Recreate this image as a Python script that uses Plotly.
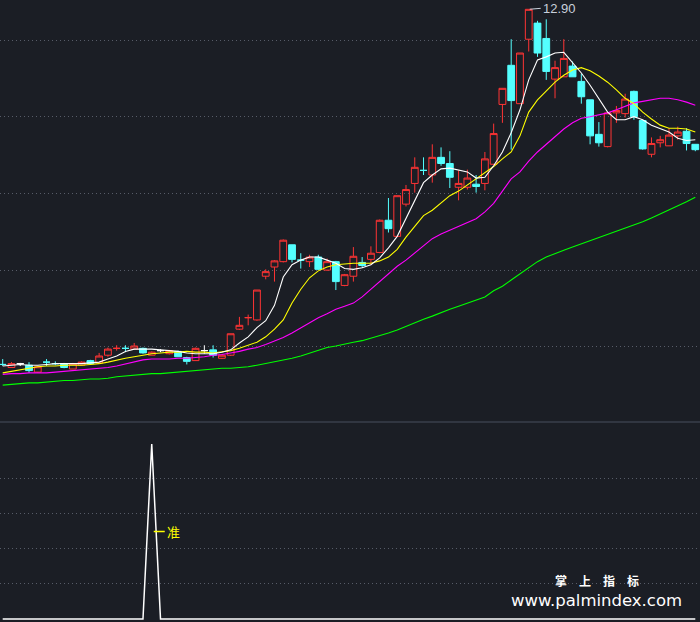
import plotly.graph_objects as go

# ---------------- data ----------------
days = list(range(80))
kind = list("crwcrcccrr" "crrrcrcrwr" "ccrwcrrrrr" "rrrccrcrcr"
            "rcrrcrrrcr" "ccrrcrrrcr" "rccrrccccr" "rrccrrrrcc")

opens = [8.27, 8.23, 8.28, 8.26, 8.17, 8.30, 8.28, 8.28, 8.21, 8.26,
         8.32, 8.29, 8.39, 8.48, 8.48, 8.47, 8.48, 8.39, 8.45, 8.41,
         8.44, 8.36, 8.32, 8.45, 8.46, 8.35, 8.39, 8.73, 8.88, 8.85,
         9.42, 9.54, 9.61, 9.83, 9.63, 9.61, 9.67, 9.50, 9.61, 9.30,
         9.42, 9.60, 9.64, 9.73, 10.15, 9.94, 10.36, 10.63, 10.80, 10.74,
         10.97, 10.89, 10.58, 10.58, 10.62, 10.63, 10.88, 11.66, 12.17, 11.67,
         12.51, 12.72, 12.52, 11.99, 12.02, 12.16, 11.96, 11.72, 11.27, 11.11,
         11.55, 11.54, 11.83, 11.45, 11.01, 11.16, 11.12, 11.25, 11.31, 11.14]
highs = [8.34, 8.30, 8.29, 8.30, 8.24, 8.34, 8.31, 8.29, 8.29, 8.31,
         8.33, 8.42, 8.49, 8.52, 8.52, 8.55, 8.49, 8.44, 8.47, 8.46,
         8.45, 8.37, 8.49, 8.52, 8.52, 8.40, 8.67, 8.89, 8.92, 9.24,
         9.51, 9.63, 9.90, 9.83, 9.72, 9.70, 9.70, 9.65, 9.62, 9.45,
         9.80, 9.67, 9.81, 10.16, 10.44, 10.47, 10.61, 10.97, 10.97, 11.14,
         11.10, 11.05, 10.80, 10.81, 10.74, 11.04, 11.41, 11.87, 12.51, 12.33,
         12.90, 12.75, 12.77, 12.23, 12.51, 12.22, 12.06, 11.72, 11.43, 11.56,
         11.64, 11.80, 11.84, 11.45, 11.23, 11.25, 11.35, 11.37, 11.35, 11.14]
lows = [8.25, 8.23, 8.25, 8.16, 8.16, 8.25, 8.26, 8.22, 8.21, 8.26,
        8.27, 8.28, 8.37, 8.45, 8.43, 8.46, 8.41, 8.39, 8.43, 8.40,
        8.37, 8.27, 8.32, 8.41, 8.36, 8.34, 8.38, 8.72, 8.78, 8.84,
        9.38, 9.35, 9.60, 9.60, 9.52, 9.54, 9.50, 9.49, 9.24, 9.29,
        9.35, 9.53, 9.57, 9.72, 9.99, 9.93, 10.33, 10.51, 10.74, 10.64,
        10.86, 10.57, 10.41, 10.55, 10.51, 10.54, 10.87, 11.42, 11.07, 11.67,
        12.35, 12.28, 11.98, 11.74, 12.02, 12.02, 11.67, 11.14, 11.11, 11.10,
        11.42, 11.49, 11.46, 11.07, 10.97, 11.10, 11.12, 11.20, 11.06, 11.05]
closes = [8.27, 8.28, 8.28, 8.19, 8.24, 8.30, 8.28, 8.23, 8.28, 8.30,
          8.28, 8.38, 8.47, 8.48, 8.48, 8.51, 8.42, 8.43, 8.45, 8.45,
          8.37, 8.31, 8.48, 8.45, 8.39, 8.39, 8.67, 8.78, 8.88, 9.24,
          9.48, 9.62, 9.89, 9.64, 9.63, 9.67, 9.51, 9.61, 9.35, 9.44,
          9.68, 9.56, 9.72, 10.15, 10.04, 10.47, 10.55, 10.84, 10.80, 10.97,
          10.89, 10.71, 10.63, 10.70, 10.59, 10.95, 11.28, 11.87, 11.71, 12.33,
          12.90, 12.33, 12.09, 12.14, 12.26, 12.02, 11.76, 11.25, 11.16, 11.55,
          11.58, 11.73, 11.50, 11.08, 11.15, 11.20, 11.26, 11.30, 11.15, 11.07]

ma5 = [8.25, 8.26, 8.27, 8.26, 8.26, 8.27, 8.28, 8.28, 8.28, 8.28,
       8.29, 8.30, 8.34, 8.38, 8.44, 8.47, 8.47, 8.47, 8.46, 8.45,
       8.44, 8.42, 8.41, 8.41, 8.41, 8.43, 8.46, 8.55, 8.63, 8.75,
       8.84, 9.04, 9.41, 9.57, 9.63, 9.67, 9.67, 9.63, 9.59, 9.52,
       9.51, 9.53, 9.57, 9.66, 9.79, 9.94, 10.17, 10.41, 10.64, 10.74,
       10.82, 10.83, 10.80, 10.78, 10.70, 10.71, 10.86, 11.04, 11.29, 11.59,
       11.98, 12.24, 12.28, 12.33, 12.34, 12.21, 12.07, 11.91, 11.73, 11.56,
       11.46, 11.46, 11.50, 11.46, 11.39, 11.34, 11.30, 11.22, 11.19, 11.20]
ma10 = [8.16, 8.18, 8.20, 8.22, 8.24, 8.25, 8.25, 8.26, 8.26, 8.26,
        8.27, 8.28, 8.30, 8.33, 8.35, 8.37, 8.39, 8.41, 8.42, 8.43,
        8.43, 8.44, 8.43, 8.43, 8.42, 8.44, 8.45, 8.48, 8.52, 8.56,
        8.63, 8.73, 8.85, 9.07, 9.25, 9.40, 9.49, 9.54, 9.57, 9.58,
        9.59, 9.59, 9.59, 9.62, 9.67, 9.77, 9.93, 10.07, 10.21, 10.28,
        10.38, 10.47, 10.53, 10.61, 10.69, 10.77, 10.85, 10.95, 11.04, 11.25,
        11.56, 11.72, 11.84, 11.95, 12.04, 12.11, 12.14, 12.10, 12.03, 11.95,
        11.85, 11.74, 11.67, 11.56, 11.47, 11.39, 11.35, 11.35, 11.34, 11.30]
ma20 = [8.14, 8.15, 8.15, 8.16, 8.16, 8.16, 8.17, 8.18, 8.19, 8.20,
        8.21, 8.22, 8.23, 8.25, 8.28, 8.31, 8.33, 8.34, 8.34, 8.34,
        8.35, 8.35, 8.36, 8.37, 8.39, 8.40, 8.42, 8.44, 8.47, 8.49,
        8.53, 8.57, 8.62, 8.68, 8.75, 8.81, 8.88, 8.93, 8.99, 9.03,
        9.07, 9.15, 9.25, 9.34, 9.45, 9.55, 9.63, 9.72, 9.82, 9.91,
        9.97, 10.02, 10.06, 10.11, 10.17, 10.26, 10.37, 10.53, 10.69, 10.78,
        10.92, 11.04, 11.14, 11.25, 11.34, 11.42, 11.48, 11.50, 11.52, 11.55,
        11.59, 11.64, 11.68, 11.70, 11.72, 11.74, 11.74, 11.72, 11.69, 11.65]
ma60 = [8.00, 8.01, 8.02, 8.03, 8.03, 8.04, 8.05, 8.06, 8.06, 8.07,
        8.08, 8.08, 8.09, 8.11, 8.12, 8.13, 8.14, 8.15, 8.15, 8.16,
        8.17, 8.18, 8.19, 8.20, 8.21, 8.22, 8.22, 8.23, 8.24, 8.26,
        8.28, 8.30, 8.32, 8.35, 8.38, 8.42, 8.46, 8.49, 8.51, 8.54,
        8.56, 8.58, 8.61, 8.64, 8.68, 8.72, 8.77, 8.82, 8.86, 8.90,
        8.95, 8.99, 9.03, 9.07, 9.11, 9.15, 9.23, 9.29, 9.37, 9.45,
        9.54, 9.61, 9.67, 9.72, 9.76, 9.80, 9.84, 9.88, 9.92, 9.96,
        10.01, 10.05, 10.09, 10.13, 10.18, 10.23, 10.28, 10.34, 10.39, 10.45]

signal = [0, 0, 0, 0, 0, 0, 0, 0, 0, 0,
          0, 0, 0, 0, 0, 0, 0, 100, 0, 0,
          0, 0, 0, 0, 0, 0, 0, 0, 0, 0,
          0, 0, 0, 0, 0, 0, 0, 0, 0, 0,
          0, 0, 0, 0, 0, 0, 0, 0, 0, 0,
          0, 0, 0, 0, 0, 0, 0, 0, 0, 0,
          0, 0, 0, 0, 0, 0, 0, 0, 0, 0,
          0, 0, 0, 0, 0, 0, 0, 0, 0, 0]
signal_text = "准"
signal_label_level = 50
price_grid = [8.5, 9.5, 10.5, 11.5, 12.5]
signal_grid = [20, 40, 60, 80]
brand_cn = "掌\u2003上\u2003指\u2003标"
brand_url = "www.palmindex.com"

# ---------------- style ----------------
BG = "#1b1e25"
GRID = "#575c68"
RED = "#ff3434"
CYAN = "#54ffff"

fig = go.Figure()

styles = {
    "r": (RED, "rgba(0,0,0,0)"),
    "c": (CYAN, CYAN),
    "w": ("#ffffff", "#ffffff"),
}
for k, (lc, fc) in styles.items():
    idx = [i for i in days if kind[i] == k]
    st = dict(line=dict(color=lc, width=1), fillcolor=fc)
    fig.add_trace(go.Candlestick(
        x=idx,
        open=[opens[i] for i in idx], high=[highs[i] for i in idx],
        low=[lows[i] for i in idx], close=[closes[i] for i in idx],
        increasing=st, decreasing=st, whiskerwidth=0,
        xaxis="x", yaxis="y", showlegend=False, hoverinfo="skip"))

for vals, col in [(ma60, "#00ff00"), (ma20, "#ff00ff"), (ma10, "#ffff00"), (ma5, "#ffffff")]:
    fig.add_trace(go.Scatter(x=days, y=vals, mode="lines",
                             line=dict(color=col, width=1.1),
                             xaxis="x", yaxis="y", showlegend=False, hoverinfo="skip"))

fig.add_trace(go.Scatter(x=days, y=signal, mode="lines",
                         line=dict(color="#ffffff", width=1.5),
                         xaxis="x2", yaxis="y2", showlegend=False, hoverinfo="skip"))

peak_i = highs.index(max(highs))
sig_i = signal.index(max(signal))

xr = [-0.308, 79.536]
axis_common = dict(showticklabels=False, zeroline=False, showline=False, ticks="")
fig.update_layout(
    width=700, height=622,
    margin=dict(l=0, r=0, t=0, b=0),
    paper_bgcolor=BG, plot_bgcolor=BG,
    boxgap=0.12, boxgroupgap=0.12,
    showlegend=False,
    xaxis=dict(domain=[0, 1], range=xr, anchor="y", showgrid=False,
               rangeslider=dict(visible=False), **axis_common),
    xaxis2=dict(domain=[0, 1], range=xr, anchor="y2", showgrid=False, **axis_common),
    yaxis=dict(domain=[0.32154, 1], range=[7.5195, 13.0215], anchor="x",
               tickvals=price_grid, showgrid=True, gridcolor=GRID, griddash="1px,3px",
               gridwidth=1, **axis_common),
    yaxis2=dict(domain=[0, 0.31994], range=[-1.714, 112], anchor="x2",
                tickvals=signal_grid, showgrid=True, gridcolor=GRID, griddash="1px,3px",
                gridwidth=1, **axis_common),
    shapes=[dict(type="line", xref="paper", yref="paper", x0=0, x1=1,
                 y0=0.3215, y1=0.3215, line=dict(color="#3a3f4b", width=1.5))],
    annotations=[
        dict(x=peak_i, y=max(highs), xref="x", yref="y", text=f"{max(highs):.2f}",
             showarrow=True, arrowhead=0, arrowwidth=1, arrowcolor="#c8d0dc",
             ax=12, ay=-1, xanchor="left", yanchor="middle", standoff=1,
             font=dict(family="Liberation Sans, Arial", size=13, color="#c8d0dc")),
        dict(x=sig_i, y=signal_label_level, xref="x2", yref="y2", text=signal_text,
             showarrow=True, arrowhead=0, arrowwidth=1.5, arrowcolor="#ffff00",
             ax=13, ay=0, xanchor="left", yanchor="middle", standoff=2,
             font=dict(family="Noto Sans CJK SC", size=13, color="#ffff00")),
        dict(x=0.853, y=0.0675, xref="paper", yref="paper", text=f"<b>{brand_cn}</b>",
             showarrow=False, xanchor="center", yanchor="middle",
             font=dict(family="Noto Sans CJK SC", size=12, color="#ffffff")),
        dict(x=0.852, y=0.034, xref="paper", yref="paper", text=brand_url,
             showarrow=False, xanchor="center", yanchor="middle",
             font=dict(family="DejaVu Sans", size=16.5, color="#ffffff")),
    ],
)

fig.write_html("out.html", config={"displayModeBar": False},
               post_script="document.body.style.margin='0';document.body.style.overflow='hidden';")
